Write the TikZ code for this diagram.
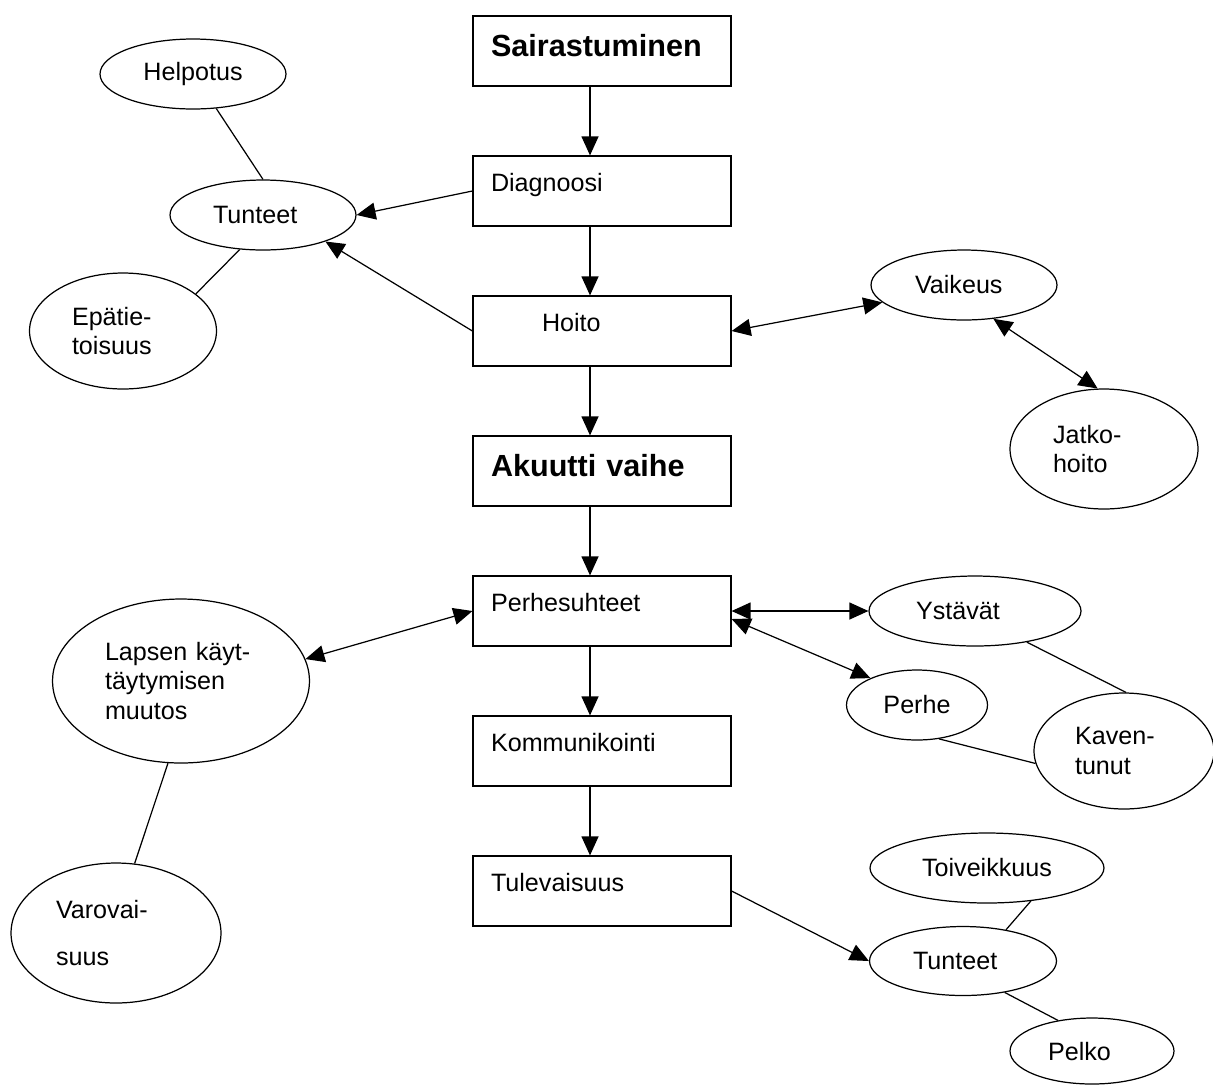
\documentclass[tikz,border=0pt]{standalone}
\usepackage{fontspec}
\setmainfont{Liberation Sans}
\usetikzlibrary{arrows.meta,shapes.geometric}

\begin{document}
\begin{tikzpicture}[x=0.02cm,y=-0.02cm,line width=0.7pt,
  box/.style={draw,rectangle,minimum width=5.16cm,minimum height=1.4cm,text width=4.44cm,
    inner xsep=0.36cm,inner ysep=0pt,align=left,text height=0.3cm,text depth=0.3cm,
    font=\fontsize{14.3}{17}\selectfont},
  boldbox/.style={box,text height=0.4cm,text depth=0.2cm,font=\fontsize{17.4}{21}\selectfont\bfseries},
  bubble/.style={draw,ellipse,inner sep=0pt,align=left,font=\fontsize{14.3}{17}\selectfont},
  arr/.style={-{Triangle[length=0.38cm,width=0.34cm]}},
  darr/.style={{Triangle[length=0.38cm,width=0.34cm]}-{Triangle[length=0.38cm,width=0.34cm]}}]
\useasboundingbox (0,0) rectangle (1213,1086);

\node[boldbox] (sairas) at (602,51) {Sairastuminen};
\node[box] (diag) at (602,191) {Diagnoosi};
\node[box] (hoito) at (602,331) {\hspace*{1.02cm}Hoito};
\node[boldbox] (akuutti) at (602,471) {Akuutti vaihe};
\node[box] (perhes) at (602,611) {Perhesuhteet};
\node[box] (kommun) at (602,751) {Kommunikointi};
\node[box] (tulev) at (602,891) {Tulevaisuus};

\node[bubble,minimum width=3.72cm,minimum height=1.4cm] (helpotus) at (193,74) {Helpotus};
\node[bubble,minimum width=3.72cm,minimum height=1.4cm,text width=2cm] (tunteet1) at (263,215) {Tunteet};
\node[bubble,minimum width=3.74cm,minimum height=2.32cm,text width=2.04cm] (epatieto) at (123,331) {Epätie-\\toisuus};
\node[bubble,minimum width=3.72cm,minimum height=1.4cm,text width=1.96cm] (vaikeus) at (964,285) {Vaikeus};
\node[bubble,minimum width=3.76cm,minimum height=2.4cm,text width=2.04cm] (jatko) at (1104,449) {Jatko-\\hoito};
\node[bubble,minimum width=5.14cm,minimum height=3.28cm,text width=3.04cm] (lapsen) at (181,681) {Lapsen käyt-\\täytymisen\\muutos};
\node[bubble,minimum width=4.2cm,minimum height=2.8cm,text width=2.4cm] (varovai) at (116,933) {Varovai-\\[0.34cm]suus};
\node[bubble,minimum width=4.24cm,minimum height=1.4cm,text width=2.36cm] (ystavat) at (975,611) {Ystävät};
\node[bubble,minimum width=2.82cm,minimum height=1.4cm] (perhe) at (917,705) {Perhe};
\node[bubble,minimum width=3.6cm,minimum height=2.32cm,text width=1.96cm] (kaven) at (1124,751) {Kaven-\\tunut};
\node[bubble,minimum width=4.68cm,minimum height=1.4cm] (toiveikk) at (987,868) {Toiveikkuus};
\node[bubble,minimum width=3.74cm,minimum height=1.38cm,text width=2cm] (tunteet2) at (963,961) {Tunteet};
\node[bubble,minimum width=3.28cm,minimum height=1.32cm,text width=1.76cm] (pelko) at (1092,1051) {Pelko};

\draw[arr] ([xshift=-0.24cm]sairas.south) -- ([xshift=-0.24cm]diag.north);
\draw[arr] ([xshift=-0.24cm]diag.south) -- ([xshift=-0.24cm]hoito.north);
\draw[arr] ([xshift=-0.24cm]hoito.south) -- ([xshift=-0.24cm]akuutti.north);
\draw[arr] ([xshift=-0.24cm]akuutti.south) -- ([xshift=-0.24cm]perhes.north);
\draw[arr] ([xshift=-0.24cm]perhes.south) -- ([xshift=-0.24cm]kommun.north);
\draw[arr] ([xshift=-0.24cm]kommun.south) -- ([xshift=-0.24cm]tulev.north);

\draw[arr] (diag.west) -- (tunteet1.east);
\draw[arr] (hoito.west) -- (tunteet1.-23);
\draw[darr] (hoito.east) -- (vaikeus.192);
\draw[darr] (vaikeus.-49) -- (jatko.96);
\draw[darr] (perhes.west) -- (lapsen.10);
\draw[darr] (perhes.east) -- (ystavat.west);
\draw[darr] ([yshift=-0.16cm]perhes.east) -- (perhe.150);
\draw[arr] (tulev.east) -- (tunteet2.west);

\draw (helpotus.-56) -- (tunteet1.north);
\draw (tunteet1.-124) -- (epatieto.27);
\draw (lapsen.-99) -- (varovai.75);
\draw (ystavat.-31) -- (kaven.88);
\draw (perhe.-57) -- (kaven.188);
\draw (toiveikk.-37) -- (tunteet2.36);
\draw (tunteet2.-37) -- (pelko.138);

\end{tikzpicture}
\end{document}
